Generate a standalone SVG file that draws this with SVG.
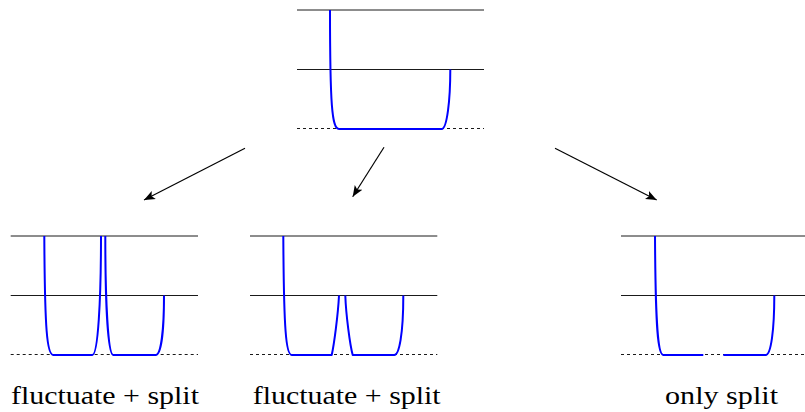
<svg xmlns="http://www.w3.org/2000/svg" width="805" height="412" viewBox="0 0 805 412">
<style>
.lvl{stroke:#000;stroke-width:0.9;fill:none}
.base{stroke:#000;stroke-width:0.9;stroke-dasharray:3 3;fill:none}
.wf{stroke:#0000ff;stroke-width:2;fill:none;stroke-linejoin:round}
.arr{stroke:#000;stroke-width:1.2;fill:none;marker-end:url(#ah)}
.lbl{fill:#000}
</style>
<defs>
<marker id="ah" markerWidth="12" markerHeight="10" refX="11" refY="5" orient="auto" markerUnits="userSpaceOnUse">
<path d="M0,0.5 L11,5 L0,9.5 L2.5,5 Z" fill="#000"/>
</marker>
</defs>
<rect width="805" height="412" fill="#fff"/>
<g id="top-node">
<line class="lvl" x1="297" y1="10" x2="484" y2="10"/>
<line class="lvl" x1="297" y1="69.5" x2="484" y2="69.5"/>
<line class="base" x1="297" y1="128.5" x2="484" y2="128.5"/>
<path class="wf" d="M330,10 C330,105 332,129 339,129 L441.7,129 C447,129 450.3,100 450.3,69.5"/>
</g>
<g id="left-node">
<line class="lvl" x1="10.7" y1="236" x2="198" y2="236"/>
<line class="lvl" x1="10.7" y1="295.5" x2="198" y2="295.5"/>
<line class="base" x1="10.7" y1="354.5" x2="198" y2="354.5"/>
<path class="wf" d="M44.3,236 C44.8,330 47,355 53.3,355 L92.3,355 C98,355 101,300 101,236"/>
<path class="wf" d="M105.3,236 C105.3,300 108,355 113.3,355 L155.7,355 C161,355 164,330 164,295.5"/>
<text class="lbl" x="11" y="404" font-family="Liberation Serif, serif" font-size="25" textLength="188" lengthAdjust="spacingAndGlyphs">fluctuate + split</text>
</g>
<g id="middle-node">
<line class="lvl" x1="250" y1="236" x2="437.3" y2="236"/>
<line class="lvl" x1="250" y1="295.5" x2="437.3" y2="295.5"/>
<line class="base" x1="250" y1="354.5" x2="437.3" y2="354.5"/>
<path class="wf" d="M283.3,236 C283.8,330 286,355 291.7,355 L331.7,355 C334,345 338,315 339,295.5"/>
<path class="wf" d="M345.3,295.5 C346,315 350,345 352.7,355 L394.3,355 C399,355 403.3,335 403.3,295.5"/>
<text class="lbl" x="252.7" y="404" font-family="Liberation Serif, serif" font-size="25" textLength="188" lengthAdjust="spacingAndGlyphs">fluctuate + split</text>
</g>
<g id="right-node">
<line class="lvl" x1="621" y1="236" x2="805" y2="236"/>
<line class="lvl" x1="621" y1="295.5" x2="805" y2="295.5"/>
<line class="base" x1="621" y1="354.5" x2="805" y2="354.5"/>
<path class="wf" d="M655,236 C655.5,330 658,355 663.3,355 L703.3,355"/>
<path class="wf" d="M723.3,355 L765.7,355 C771,355 774.3,330 774.3,295.5"/>
<text class="lbl" x="665" y="404" font-family="Liberation Serif, serif" font-size="25" textLength="113" lengthAdjust="spacingAndGlyphs">only split</text>
</g>
<g id="connectors">
<line class="arr" x1="245" y1="148.3" x2="144" y2="200"/>
<line class="arr" x1="384" y1="147.3" x2="352.7" y2="196.7"/>
<line class="arr" x1="555" y1="148.3" x2="656.7" y2="200"/>
</g>
</svg>
